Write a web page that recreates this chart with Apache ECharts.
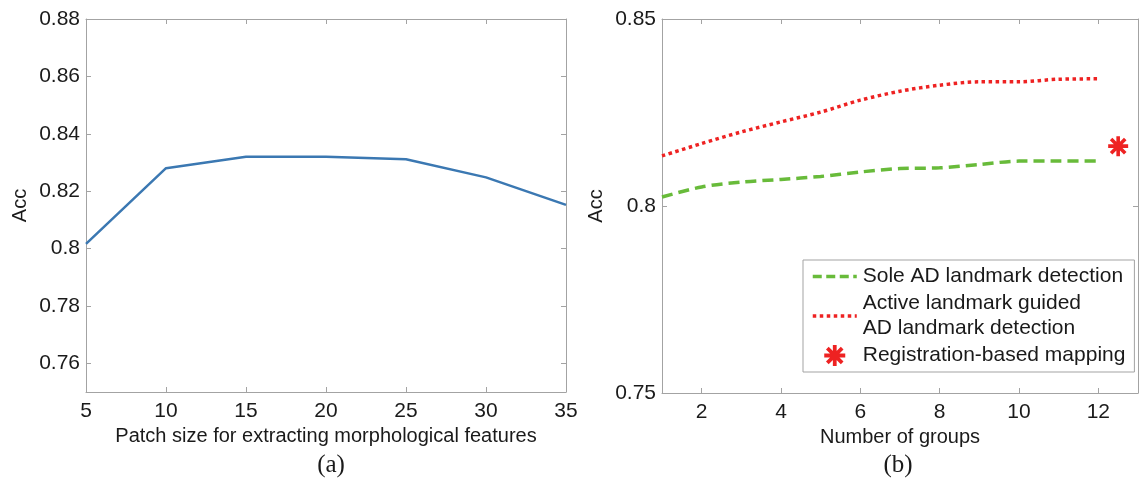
<!DOCTYPE html>
<html>
<head>
<meta charset="utf-8">
<script src="https://cdn.jsdelivr.net/npm/echarts@6/dist/echarts.min.js"></script>
<style>
  html, body { margin: 0; padding: 0; background: #fff; }
  #chart { width: 1140px; height: 482px; }
</style>
</head>
<body>
<div id="chart"></div>
<script>
// (a) patch size vs accuracy
var patchSizes = [5, 10, 15, 20, 25, 30, 35];
var patchAcc = [0.8016, 0.828, 0.832, 0.832, 0.8311, 0.8248, 0.8152];
var leftYTicks = [0.76, 0.78, 0.8, 0.82, 0.84, 0.86, 0.88];

// (b) number of groups vs accuracy
var groups = [1, 2, 3, 4, 5, 6, 7, 8, 9, 10, 11, 12];
var soleAcc = [0.8024, 0.8051, 0.8064, 0.8071, 0.8079, 0.8091, 0.81, 0.8102, 0.8111, 0.812, 0.812, 0.812];
var activeAcc = [0.8134, 0.8167, 0.8198, 0.8225, 0.8251, 0.8283, 0.8307, 0.8323, 0.8332, 0.8332, 0.8339, 0.834];
var registration = [[12.5, 0.816]];
var rightXTicks = [2, 4, 6, 8, 10, 12];
var rightYTicks = [0.75, 0.8, 0.85];

var seriesNames = ['Sole AD landmark detection', 'Active landmark guided\nAD landmark detection', 'Registration-based mapping'];

var axisGray = '#a3a3a3';
var txt = '#1a1a1a';
var font = 'Liberation Sans, Arial, sans-serif';

// asterisk marker (MATLAB '*')
var starPath = 'path://M8.2 0L11.8 0L11.8 20L8.2 20Z M0 8.2L20 8.2L20 11.8L0 11.8Z ' +
  'M4.2 1.66L18.34 15.8L15.8 18.34L1.66 4.2Z M18.34 4.2L4.2 18.34L1.66 15.8L15.8 1.66Z';

function mainAxis(extra) {
  return Object.assign({
    type: 'value',
    axisLine: { show: true, lineStyle: { color: axisGray, width: 1 } },
    axisTick: { show: true, inside: true, length: 5, lineStyle: { color: axisGray } },
    splitLine: { show: false },
    axisLabel: { color: txt, fontSize: 21, fontFamily: font },
    nameTextStyle: { color: txt, fontSize: 20, fontFamily: font }
  }, extra);
}
function boxAxis(extra) {
  return Object.assign({
    type: 'value',
    axisLine: { show: true, lineStyle: { color: axisGray, width: 1 } },
    axisTick: { show: true, inside: true, length: 5, lineStyle: { color: axisGray } },
    axisLabel: { show: false },
    splitLine: { show: false }
  }, extra);
}

var chart = echarts.init(document.getElementById('chart'));

var option = {
  animation: false,
  backgroundColor: '#fff',
  title: [
    { text: '(a)', left: 326, top: 448, textAlign: 'center',
      textStyle: { fontFamily: 'Liberation Serif, Times New Roman, serif', fontSize: 25, fontWeight: 'normal', color: txt } },
    { text: '(b)', left: 893, top: 448, textAlign: 'center',
      textStyle: { fontFamily: 'Liberation Serif, Times New Roman, serif', fontSize: 25, fontWeight: 'normal', color: txt } }
  ],
  grid: [
    { left: 86, top: 19, width: 480, height: 373 },
    { left: 662, top: 19, width: 476, height: 374 }
  ],
  xAxis: [
    mainAxis({ gridIndex: 0, min: 5, max: 35, interval: 5, position: 'bottom',
      name: 'Patch size for extracting morphological features', nameLocation: 'middle', nameGap: 31,
      axisLabel: { color: txt, fontSize: 21, fontFamily: font, margin: 9 } }),
    boxAxis({ gridIndex: 0, min: 5, max: 35, interval: 5, position: 'top' }),
    mainAxis({ gridIndex: 1, min: 1, max: 13, position: 'bottom',
      name: 'Number of groups', nameLocation: 'middle', nameGap: 31,
      axisTick: { show: true, inside: true, length: 5, lineStyle: { color: axisGray }, customValues: rightXTicks },
      axisLabel: { color: txt, fontSize: 21, fontFamily: font, margin: 9, customValues: rightXTicks } }),
    boxAxis({ gridIndex: 1, min: 1, max: 13, position: 'top',
      axisTick: { show: true, inside: true, length: 5, lineStyle: { color: axisGray }, customValues: rightXTicks } })
  ],
  yAxis: [
    mainAxis({ gridIndex: 0, min: 0.75, max: 0.88, position: 'left',
      name: 'Acc', nameLocation: 'middle', nameGap: 56,
      axisTick: { show: true, inside: true, length: 5, lineStyle: { color: axisGray }, customValues: leftYTicks },
      axisLabel: { color: txt, fontSize: 21, fontFamily: font, margin: 6, customValues: leftYTicks } }),
    boxAxis({ gridIndex: 0, min: 0.75, max: 0.88, position: 'right',
      axisTick: { show: true, inside: true, length: 5, lineStyle: { color: axisGray }, customValues: leftYTicks } }),
    mainAxis({ gridIndex: 1, min: 0.75, max: 0.85, position: 'left',
      name: 'Acc', nameLocation: 'middle', nameGap: 56,
      axisTick: { show: true, inside: true, length: 5, lineStyle: { color: axisGray }, customValues: rightYTicks },
      axisLabel: { color: txt, fontSize: 21, fontFamily: font, margin: 6, customValues: rightYTicks } }),
    boxAxis({ gridIndex: 1, min: 0.75, max: 0.85, position: 'right',
      axisTick: { show: true, inside: true, length: 5, lineStyle: { color: axisGray }, customValues: rightYTicks } })
  ],
  legend: {
    orient: 'vertical',
    left: 803,
    top: 260,
    padding: [4, 9, 4, 8],
    itemGap: 2,
    itemWidth: 44,
    itemHeight: 21,
    borderColor: axisGray,
    borderWidth: 1,
    borderRadius: 0,
    backgroundColor: '#fff',
    textStyle: { color: txt, fontSize: 21, fontFamily: font, lineHeight: 25, padding: [0, 0, 0, 1] },
    data: [
      { name: seriesNames[0], itemStyle: { opacity: 0 },
        lineStyle: { color: '#68bb3a', width: 3.5, type: [9, 4.5] } },
      { name: seriesNames[1], itemStyle: { opacity: 0 },
        lineStyle: { color: '#ee2222', width: 3.5, type: [3.5, 3.5] } },
      { name: seriesNames[2] }
    ]
  },
  series: [
    {
      name: 'patch',
      type: 'line',
      xAxisIndex: 0, yAxisIndex: 0,
      data: patchSizes.map(function (x, i) { return [x, patchAcc[i]]; }),
      showSymbol: false,
      lineStyle: { color: '#3b78b2', width: 2.5 },
      itemStyle: { color: '#3b78b2' }
    },
    {
      name: seriesNames[0],
      type: 'line',
      xAxisIndex: 2, yAxisIndex: 2,
      data: groups.map(function (x, i) { return [x, soleAcc[i]]; }),
      showSymbol: false,
      symbol: 'none',
      smooth: 0.3,
      lineStyle: { color: '#68bb3a', width: 3.5, type: [11, 6] },
      itemStyle: { color: '#68bb3a' }
    },
    {
      name: seriesNames[1],
      type: 'line',
      xAxisIndex: 2, yAxisIndex: 2,
      data: groups.map(function (x, i) { return [x, activeAcc[i]]; }),
      showSymbol: false,
      symbol: 'none',
      smooth: 0.3,
      lineStyle: { color: '#ee2222', width: 3.5, type: [3.5, 3.5] },
      itemStyle: { color: '#ee2222' }
    },
    {
      name: seriesNames[2],
      type: 'scatter',
      xAxisIndex: 2, yAxisIndex: 2,
      data: registration,
      symbol: starPath,
      symbolSize: 20,
      symbolKeepAspect: true,
      itemStyle: { color: '#ee2222', opacity: 1 }
    }
  ]
};

chart.setOption(option);
</script>
</body>
</html>
